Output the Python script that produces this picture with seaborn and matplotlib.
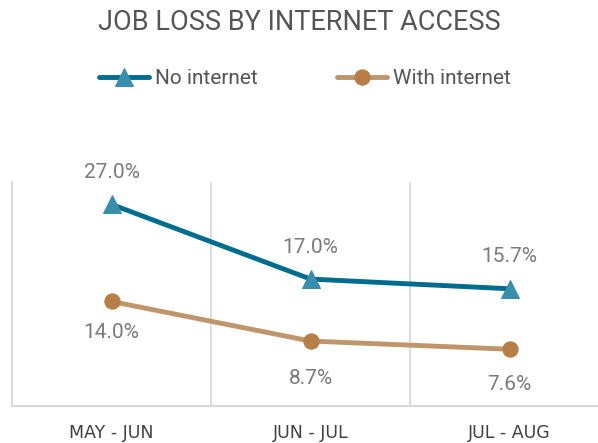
import matplotlib
matplotlib.use("Agg")
import matplotlib.pyplot as plt
import seaborn as sns
import pandas as pd

periods = ["MAY - JUN", "JUN - JUL", "JUL - AUG"]
no_internet = [27.0, 17.0, 15.7]
with_internet = [14.0, 8.7, 7.6]
series_names = ["No internet", "With internet"]

sns.set_style("white")
plt.rcParams['font.family'] = ['Roboto', 'DejaVu Sans']

df = pd.DataFrame({
    "period": periods * 2,
    "value": no_internet + with_internet,
    "series": [series_names[0]] * 3 + [series_names[1]] * 3,
})

fig = plt.figure(figsize=(5.98, 4.43), dpi=100)
ax = fig.add_axes([12 / 598, 1 - 406 / 443, 597 / 598, 224 / 443])

# label offsets in pixels (label centre relative to the point)
styles = {
    "No internet": dict(color="#006C8E", mcol="#3A8EAD", marker="^", ms=13, offs=[32, 32, 32]),
    "With internet": dict(color="#C0956A", mcol="#B87E47", marker="o", ms=11, offs=[-31, -37, -35]),
}

for name in series_names:
    st = styles[name]
    sub = df[df["series"] == name]
    sns.lineplot(data=sub, x="period", y="value", ax=ax, color=st["color"],
                 linewidth=3.5, marker=st["marker"], markersize=st["ms"],
                 markerfacecolor=st["mcol"], markeredgecolor=st["mcol"],
                 label=name, sort=False)
    for i, v in enumerate(sub["value"]):
        ax.annotate(f"{v:.1f}%", (i, v), xytext=(0, st["offs"][i] * 0.72), textcoords="offset points",
                    ha="center", va="center", fontsize=15, color="#7A7A7A")

ax.set_xlim(-0.5, 2.5)
ax.set_ylim(0, 30)
ax.set_yticks([])
ax.set_xlabel("")
ax.set_ylabel("")
for xv in [0.5, 1.5]:
    ax.axvline(xv, color="#D9D9D9", linewidth=1.3, zorder=0)
for s in ["top", "right"]:
    ax.spines[s].set_visible(False)
for s in ["left", "bottom"]:
    ax.spines[s].set_color("#D9D9D9")
    ax.spines[s].set_linewidth(1.5)
ax.tick_params(axis="x", length=0, pad=13, labelsize=12.5, labelcolor="#404040")
for lab in ax.get_xticklabels():
    lab.set_fontfamily(['DejaVu Sans'])

handles, labels = ax.get_legend_handles_labels()
ax.legend(handles, labels, loc="center", bbox_to_anchor=(0.51, 1 - 79 / 443),
          bbox_transform=fig.transFigure, ncol=2, frameon=False, fontsize=15,
          handlelength=2.4, handletextpad=0.3, columnspacing=3.8, labelcolor="#555555")

fig.text(0.5, 1 - 23 / 443, "JOB LOSS BY INTERNET ACCESS", ha="center", va="center",
         fontsize=19.5, color="#555555")

fig.savefig("out.png", dpi=100)
